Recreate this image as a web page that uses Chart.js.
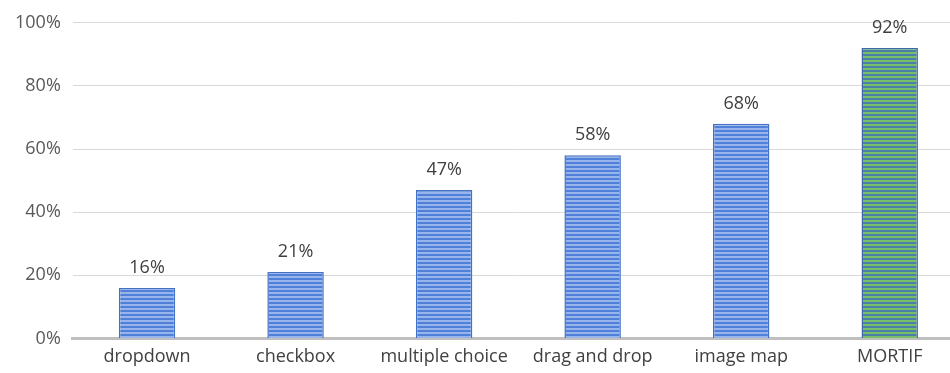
<!DOCTYPE html>
<html>
<head>
<meta charset="utf-8">
<script src="https://cdn.jsdelivr.net/npm/chart.js@4/dist/chart.umd.min.js"></script>
<style>
  html, body { margin: 0; padding: 0; background: #fff; overflow: hidden; }
  #wrap { width: 966px; height: 373px; position: relative; }
</style>
</head>
<body>
<div id="wrap"><canvas id="chart" width="964" height="376"></canvas></div>
<script>
// question types and share of correct answers
const categories = ["dropdown", "checkbox", "multiple choice", "drag and drop", "image map", "MORTIF"];
const values = [16, 21, 47, 58, 68, 92];
const yTicks = [0, 20, 40, 60, 80, 100];

function stripes(base, line) {
    const c = document.createElement("canvas");
    c.width = 4; c.height = 4;
    const g = c.getContext("2d");
    g.fillStyle = base;
    g.fillRect(0, 0, 4, 4);
    g.fillStyle = line;
    g.fillRect(0, 0, 4, 2);
    return g.createPattern(c, "repeat");
}

const ctx = document.getElementById("chart").getContext("2d");
const bluePat = stripes("#5080d8", "#97b5ec");
const greenPat = stripes("#4a80a8", "#78bd68");

const valueLabels = {
    id: "valueLabels",
    afterDatasetsDraw(chart) {
        const c = chart.ctx;
        const meta = chart.getDatasetMeta(0);
        c.save();
        c.font = "18px 'Open Sans', sans-serif";
        c.fillStyle = "#404040";
        c.textAlign = "center";
        c.textBaseline = "bottom";
        meta.data.forEach((bar, i) => {
            c.fillText(values[i] + "%", bar.x, bar.y - 11);
        });
        c.restore();
    }
};

new Chart(ctx, {
    type: "bar",
    data: {
        labels: categories,
        datasets: [{
            data: values,
            backgroundColor: values.map((v, i) => i === 5 ? greenPat : bluePat),
            borderColor: values.map((v, i) => i === 5 ? "#3f6aa8" : "#4472c4"),
            borderWidth: 1.5,
            categoryPercentage: 1,
            barPercentage: 0.38
        }]
    },
    options: {
        responsive: false,
        animation: false,
        devicePixelRatio: 1,
        layout: { padding: { top: 4, right: 0, left: 3, bottom: 0 } },
        plugins: { legend: { display: false }, tooltip: { enabled: false } },
        scales: {
            x: {
                grid: { display: false, drawTicks: false },
                border: { color: "#bfbfbf", width: 3 },
                ticks: { color: "#404040", font: { size: 18, family: "'Open Sans', sans-serif" }, padding: 8 }
            },
            y: {
                min: 0, max: 100,
                afterBuildTicks(axis) { axis.ticks = yTicks.map(v => ({ value: v })); },
                grid: { color: "#d9d9d9", lineWidth: 1, drawTicks: false },
                border: { display: false },
                ticks: {
                    color: "#595959",
                    font: { size: 18, family: "'Open Sans', sans-serif" },
                    padding: 12,
                    callback: v => v + "%"
                }
            }
        }
    },
    plugins: [valueLabels]
});
</script>
</body>
</html>
